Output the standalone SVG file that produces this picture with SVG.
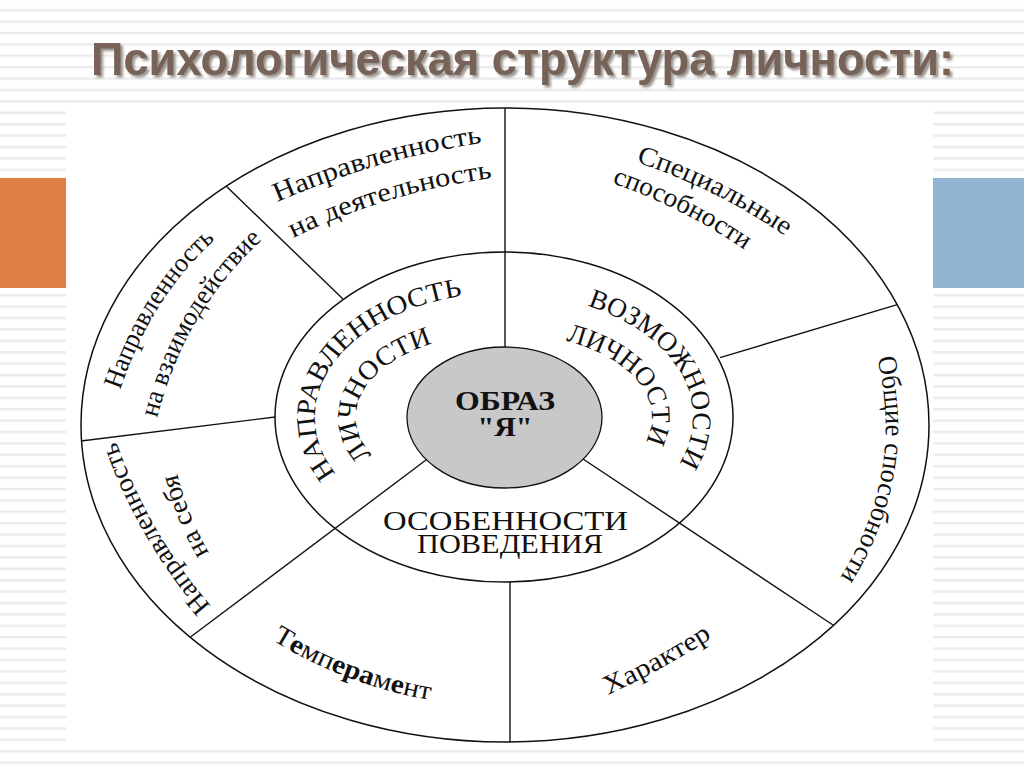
<svg xmlns="http://www.w3.org/2000/svg" width="1024" height="767" viewBox="0 0 1024 767">
<defs>
<pattern id="stripes" patternUnits="userSpaceOnUse" x="0" y="9" width="1024" height="11.4">
<rect x="0" y="0" width="1024" height="2.4" fill="#ebebeb"/>
</pattern>
<filter id="shadow" x="-5%" y="-30%" width="110%" height="160%">
<feDropShadow dx="2.5" dy="2.5" stdDeviation="1.2" flood-color="#8f8884" flood-opacity="0.9"/>
</filter>
<path id="p_in1" d="M 335.9 473.7 A 189 124 0 0 1 461.8 296.1"/>
<path id="p_in2" d="M 372.0 455.0 A 148 84 0 0 1 429.3 344.5"/>
<path id="p_in3" d="M 587.4 305.7 A 189 124 0 0 1 679.8 462.4"/>
<path id="p_in4" d="M 565.8 340.7 A 148 84 0 0 1 646.3 440.0"/>
<path id="p1" d="M 277 202 Q 380.5 157.5 482 143"/>
<path id="p2" d="M 293 238 Q 387 192 493 178"/>
<path id="p3" d="M 120 390 Q 152.5 295 215 240"/>
<path id="p4" d="M 157 418 Q 184.5 311 262 240"/>
<path id="p5" d="M 211 606 Q 147.9 532.5 116 441"/>
<path id="p6" d="M 209 553 Q 187.4 515.2 177 473"/>
<path id="p7" d="M 272 640 Q 345.4 685 430 700"/>
<path id="p8" d="M 608 695 Q 661.9 670 712 638"/>
<path id="p9" d="M 877 358 Q 905.5 472 840 578"/>
<path id="p10" d="M 636 162 Q 715.8 188.3 785 236"/>
<path id="p11" d="M 612 183 Q 683 207.6 745 250"/>
</defs>
<style>
.ring { fill: none; stroke: #111; stroke-width: 1.5; }
.conn line { stroke: #111; stroke-width: 1.4; }
.lbl { font-family: "Liberation Serif", "Times New Roman", serif; font-size: 27px; fill: #111; }
.cap { font-family: "Liberation Serif", "Times New Roman", serif; font-size: 27px; fill: #111; }
.ttl { font-family: "Liberation Sans Narrow", "Liberation Sans", Arial, sans-serif; font-weight: bold; font-size: 46px; }
</style>

<rect x="0" y="0" width="1024" height="767" fill="#ffffff"/>
<rect x="0" y="0" width="1024" height="767" fill="url(#stripes)"/>
<rect x="0" y="178" width="66" height="110" fill="#e07f45"/>
<rect x="933" y="178" width="91" height="110" fill="#93b3d3"/>
<rect x="66" y="105" width="867" height="643" fill="#ffffff"/>

<g id="title">
<text class="ttl" x="91" y="75" textLength="863" lengthAdjust="spacingAndGlyphs" fill="#776258" filter="url(#shadow)">Психологическая структура личности:</text>
</g>

<g id="outer-ring"><ellipse class="ring" cx="505" cy="425" rx="424" ry="317"/></g>
<g id="middle-ring"><ellipse class="ring" cx="504" cy="417" rx="229" ry="165"/></g>

<g id="connectors" class="conn">
<line x1="505" y1="108" x2="505" y2="352"/>
<line x1="510" y1="582" x2="510" y2="742"/>
<line x1="226.3" y1="186.3" x2="343" y2="299"/>
<line x1="81" y1="441" x2="275" y2="417"/>
<line x1="430" y1="457" x2="190.5" y2="637"/>
<line x1="580" y1="457" x2="833" y2="625"/>
<line x1="720" y1="357.6" x2="897.3" y2="304.7"/>
</g>

<g id="obraz-ya">
<ellipse cx="504.5" cy="417.5" rx="97.5" ry="70.5" fill="#c8c8c8" stroke="#111" stroke-width="1.3"/>
<text class="cap" x="505" y="410" font-weight="bold" text-anchor="middle" textLength="100" lengthAdjust="spacingAndGlyphs">ОБРАЗ</text>
<text class="cap" x="505" y="436" font-weight="bold" text-anchor="middle" textLength="55" lengthAdjust="spacingAndGlyphs">"Я"</text>
</g>

<g id="napravlennost-lichnosti">
<text class="cap" font-size="28"><textPath href="#p_in1" textLength="268" lengthAdjust="spacingAndGlyphs">НАПРАВЛЕННОСТЬ</textPath></text>
<text class="cap" font-size="28"><textPath href="#p_in2" textLength="155" lengthAdjust="spacingAndGlyphs">ЛИЧНОСТИ</textPath></text>
</g>

<g id="vozmozhnosti-lichnosti">
<text class="cap" font-size="28"><textPath href="#p_in3" textLength="213" lengthAdjust="spacingAndGlyphs">ВОЗМОЖНОСТИ</textPath></text>
<text class="cap" font-size="28"><textPath href="#p_in4" textLength="149" lengthAdjust="spacingAndGlyphs">ЛИЧНОСТИ</textPath></text>
</g>

<g id="osobennosti-povedeniya">
<text class="cap" x="383" y="530" textLength="245" lengthAdjust="spacingAndGlyphs">ОСОБЕННОСТИ</text>
<text class="cap" x="417" y="553" textLength="186" lengthAdjust="spacingAndGlyphs">ПОВЕДЕНИЯ</text>
</g>

<g id="napr-deyatelnost">
<text class="lbl"><textPath href="#p1" textLength="214" lengthAdjust="spacingAndGlyphs">Направленность</textPath></text>
<text class="lbl"><textPath href="#p2" textLength="209" lengthAdjust="spacingAndGlyphs">на деятельность</textPath></text>
</g>

<g id="napr-vzaimodeystvie">
<text class="lbl"><textPath href="#p3" textLength="180" lengthAdjust="spacingAndGlyphs">Направленность</textPath></text>
<text class="lbl"><textPath href="#p4" textLength="210" lengthAdjust="spacingAndGlyphs">на взаимодействие</textPath></text>
</g>

<g id="napr-sebya">
<text class="lbl"><textPath href="#p5" textLength="191" lengthAdjust="spacingAndGlyphs">Направленность</textPath></text>
<text class="lbl"><textPath href="#p6" textLength="86" lengthAdjust="spacingAndGlyphs">на себя</textPath></text>
</g>

<g id="temperament">
<text class="lbl"><textPath href="#p7" textLength="170" lengthAdjust="spacingAndGlyphs">Т<tspan font-weight="bold">е</tspan>мп<tspan font-weight="bold">ера</tspan>м<tspan font-weight="bold">е</tspan>нт</textPath></text>
</g>

<g id="harakter">
<text class="lbl"><textPath href="#p8" textLength="119" lengthAdjust="spacingAndGlyphs">Характер</textPath></text>
</g>

<g id="obshchie-sposobnosti">
<text class="lbl"><textPath href="#p9" textLength="229" lengthAdjust="spacingAndGlyphs">Общие способности</textPath></text>
</g>

<g id="spetsialnye-sposobnosti">
<text class="lbl"><textPath href="#p10" textLength="167" lengthAdjust="spacingAndGlyphs">Специальные</textPath></text>
<text class="lbl"><textPath href="#p11" textLength="149" lengthAdjust="spacingAndGlyphs">способности</textPath></text>
</g>
</svg>
